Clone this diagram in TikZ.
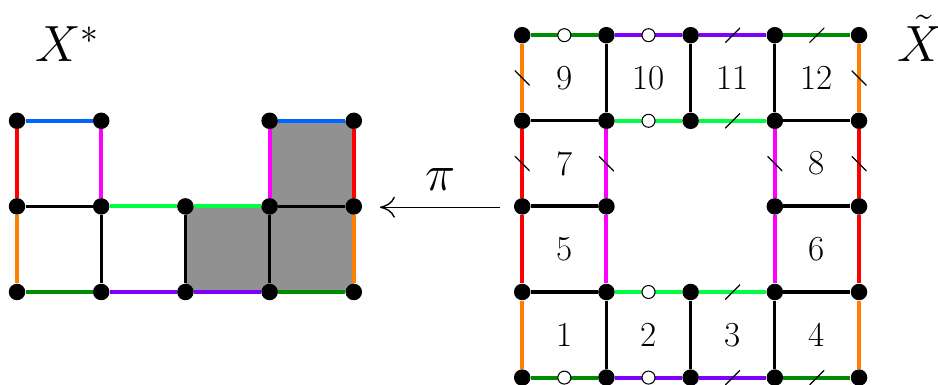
\RequirePackage{fix-cm}
\documentclass[tikz,border=0pt]{standalone}
\usepackage{amsmath}
\usetikzlibrary{arrows.meta, backgrounds}

\definecolor{eblue}{RGB}{0,102,255}
\definecolor{ered}{RGB}{255,0,0}
\definecolor{emag}{RGB}{255,0,255}
\definecolor{eorange}{RGB}{255,128,0}
\definecolor{elime}{RGB}{0,255,64}
\definecolor{edkgreen}{RGB}{0,140,0}
\definecolor{epurple}{RGB}{128,0,255}
\definecolor{egray}{RGB}{145,145,145}

\begin{document}
\begin{tikzpicture}[x=1.684cm, y=1.712cm, >={To[length=0.3cm, width=0.42cm]},
    dot/.style={circle, fill=black, inner sep=0pt, minimum size=0.33cm},
    rim/.style={line width=2.3pt},
    bar/.style={line width=1.8pt, black},
    ring/.style={circle, draw=black, fill=white, line width=0.6pt,
                 inner sep=0pt, minimum size=0.26cm},
    vtick/.style={inner sep=0pt, minimum size=0.3cm,
        path picture={\draw[black, line width=0.7pt]
          (path picture bounding box.north west) --
          (path picture bounding box.south east);}},
    htick/.style={inner sep=0pt, minimum size=0.3cm,
        path picture={\draw[black, line width=0.7pt]
          (path picture bounding box.south west) --
          (path picture bounding box.north east);}},
    num/.style={font=\fontsize{20}{24}\selectfont},
    lbl/.style={font=\fontsize{29}{34}\selectfont, inner sep=0pt}]
  \useasboundingbox (-0.202,-1.086) rectangle (10.938,3.411);

  % quotient X^*
  \foreach \j in {0,1}
    \foreach \i in {0,...,4}
      \node[dot] (l-\i-\j) at (\i,\j) {};
  \foreach \i in {0,1,3,4}
    \node[dot] (l-\i-2) at (\i,2) {};

  \begin{scope}[on background layer]
    \fill[egray] (l-2-0.center) rectangle (l-3-1.center)
                 (l-3-0.center) rectangle (l-4-2.center);
  \end{scope}

  \draw[rim, eblue] (l-0-2) -- (l-1-2) (l-3-2) -- (l-4-2);
  \draw[rim, ered] (l-0-2) -- (l-0-1) (l-4-2) -- (l-4-1);
  \draw[rim, emag] (l-1-2) -- (l-1-1) (l-3-2) -- (l-3-1);
  \draw[rim, eorange] (l-0-1) -- (l-0-0) (l-4-1) -- (l-4-0);
  \draw[rim, elime] (l-1-1) -- (l-2-1) -- (l-3-1);
  \draw[rim, edkgreen] (l-0-0) -- (l-1-0) (l-3-0) -- (l-4-0);
  \draw[rim, epurple] (l-1-0) -- (l-2-0) -- (l-3-0);
  \draw[bar] (l-0-1) -- (l-1-1) (l-3-1) -- (l-4-1)
             (l-1-1) -- (l-1-0) (l-2-1) -- (l-2-0) (l-3-1) -- (l-3-0);

  \node[lbl, anchor=base west] (xstar) at (0.21,2.69) {$X^*$};

  % covering space
  \foreach \j in {0,1,3,4}
    \foreach \i in {0,...,4}
      \node[dot] (r-\i-\j) at (6+\i,\j-1) {};
  \foreach \i in {0,1,3,4}
    \node[dot] (r-\i-2) at (6+\i,1) {};

  \draw[rim, edkgreen] (r-0-4) -- node[ring] {} (r-1-4)
                       (r-3-4) -- node[htick] {} (r-4-4)
                       (r-0-0) -- node[ring] {} (r-1-0)
                       (r-3-0) -- node[htick] {} (r-4-0);
  \draw[rim, epurple] (r-1-4) -- node[ring] {} (r-2-4)
                      (r-2-4) -- node[htick] {} (r-3-4)
                      (r-1-0) -- node[ring] {} (r-2-0)
                      (r-2-0) -- node[htick] {} (r-3-0);
  \draw[rim, elime] (r-1-3) -- node[ring] {} (r-2-3)
                    (r-2-3) -- node[htick] {} (r-3-3)
                    (r-1-1) -- node[ring] {} (r-2-1)
                    (r-2-1) -- node[htick] {} (r-3-1);
  \draw[rim, eorange] (r-0-4) -- node[vtick] {} (r-0-3)
                      (r-4-4) -- node[vtick] {} (r-4-3)
                      (r-0-1) -- (r-0-0) (r-4-1) -- (r-4-0);
  \draw[rim, ered] (r-0-3) -- node[vtick] {} (r-0-2) -- (r-0-1)
                   (r-4-3) -- node[vtick] {} (r-4-2) -- (r-4-1);
  \draw[rim, emag] (r-1-3) -- node[vtick] {} (r-1-2) -- (r-1-1)
                   (r-3-3) -- node[vtick] {} (r-3-2) -- (r-3-1);
  \draw[bar] (r-0-3) -- (r-1-3) (r-3-3) -- (r-4-3)
             (r-0-1) -- (r-1-1) (r-3-1) -- (r-4-1)
             (r-1-4) -- (r-1-3) (r-2-4) -- (r-2-3) (r-3-4) -- (r-3-3)
             (r-1-1) -- (r-1-0) (r-2-1) -- (r-2-0) (r-3-1) -- (r-3-0);
  \draw[bar, line width=2.2pt] (r-0-2) -- (r-1-2) (r-3-2) -- (r-4-2);

  \node[num] (c1) at (6.5,-0.5) {1};
  \node[num] (c2) at (7.5,-0.5) {2};
  \node[num] (c3) at (8.5,-0.5) {3};
  \node[num] (c4) at (9.5,-0.5) {4};
  \node[num] (c5) at (6.5,0.5) {5};
  \node[num] (c6) at (9.5,0.5) {6};
  \node[num] (c7) at (6.5,1.5) {7};
  \node[num] (c8) at (9.5,1.5) {8};
  \node[num] (c9) at (6.5,2.5) {9};
  \node[num] (c10) at (7.5,2.5) {10};
  \node[num] (c11) at (8.5,2.5) {11};
  \node[num] (c12) at (9.5,2.5) {12};

  \node[lbl, anchor=base west] (xtilde) at (10.45,2.69) {$\tilde{X}$};

  % projection
  \coordinate (pi-from) at (5.74,0.99);
  \coordinate (pi-to) at (4.31,0.99);
  \draw[->, line width=0.8pt] (pi-from) -- node[lbl, above=0.33cm] (pi) {$\pi$} (pi-to);
\end{tikzpicture}
\end{document}
